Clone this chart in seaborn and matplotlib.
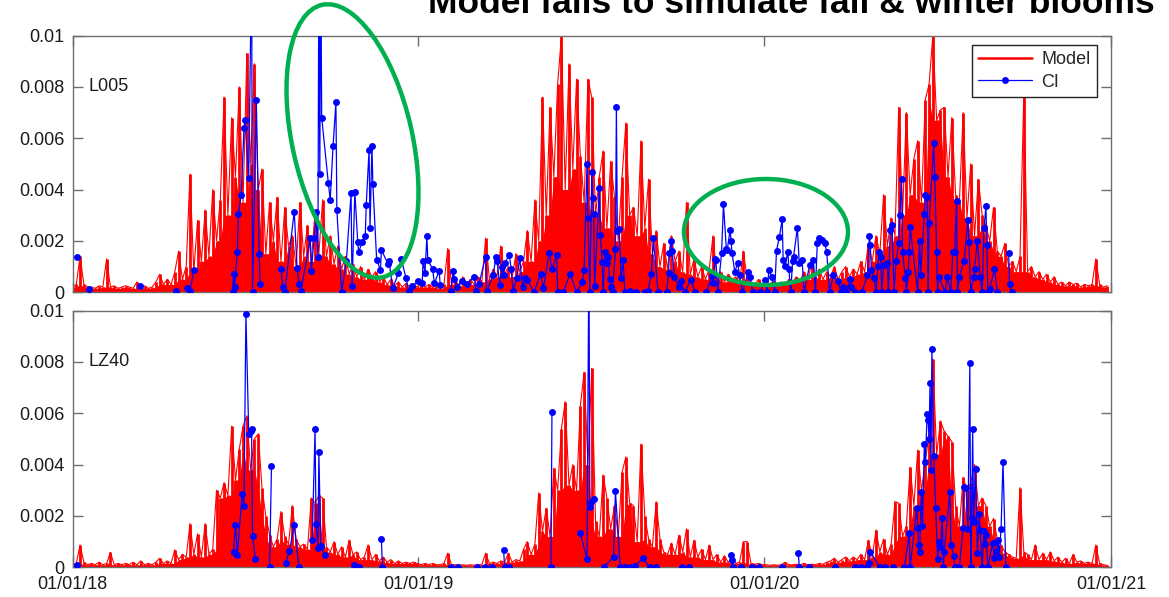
import numpy as np
import pandas as pd
import matplotlib
matplotlib.use("Agg")
import matplotlib.pyplot as plt
from matplotlib.patches import Ellipse
from matplotlib.transforms import IdentityTransform
from matplotlib.lines import Line2D
import seaborn as sns

# ---------------- data (values in units of 1e-4) ----------------
START = "2018-01-01"
END = "2021-01-01"
STEP_DAYS = 4          # model values are read every 4 days
UNIT = 1e-4
GAP_DAYS = 10          # CI observations further apart than this are not joined

model_l005 = [
    2, 3, 14, 3, 2, 2, 1.5, 2.5, 2, 13,
    2, 2.5, 1.5, 2, 2.5, 2, 1.5, 4, 2, 2.5,
    1.5, 2, 4, 7, 3, 5, 3, 8, 16, 5,
    10, 46, 8, 28, 12, 32, 14, 40, 20, 36,
    76, 30, 68, 45, 80, 35, 93, 50, 89, 40,
    48, 15, 35, 20, 37, 12, 33, 18, 22, 10,
    35, 14, 26, 12, 31, 15, 36, 14, 22, 11,
    18, 9, 14, 7, 11, 6, 10, 5, 9, 6,
    8, 4, 6, 3, 5, 2.5, 4, 2, 3.5, 2,
    3, 2, 3.5, 2, 3, 2, 2.5, 1.5, 3, 17,
    3, 5, 2.5, 6, 3, 5, 3, 6, 4, 21,
    5, 9, 6, 18, 7, 10, 6, 15, 8, 12,
    24, 12, 36, 20, 76, 30, 72, 45, 81, 100,
    40, 89, 48, 83, 53, 35, 83, 76, 30, 45,
    55, 25, 51, 37, 20, 45, 66, 30, 33, 22,
    59, 25, 44, 15, 24, 10, 19, 9, 22, 12,
    16, 8, 35, 7, 13, 6, 10, 5, 9, 22,
    6, 8, 4, 7, 5, 6, 4, 16, 5, 4,
    3, 5, 2.5, 4, 3, 4.5, 2.5, 4, 3, 5,
    4, 6, 4.5, 8, 5, 11, 6, 9, 5, 8,
    6, 10, 5, 8, 10, 6, 9, 7, 12, 8,
    19, 12, 22, 15, 38, 18, 29, 22, 72, 30,
    70, 38, 52, 59, 35, 75, 81, 100, 67, 71,
    72, 45, 68, 38, 35, 70, 29, 50, 22, 44,
    30, 26, 20, 33, 16, 14, 19, 10, 12, 8,
    14, 78, 8, 10, 6, 8, 5, 7, 4, 6,
    3, 4, 2.5, 4, 3, 3.5, 2, 3, 2.5, 3,
    13, 3, 2, 2.5,
]

model_lz40 = [
    1, 1.5, 8.7, 2, 1, 1.5, 1, 2, 1, 1.5,
    5.8, 1, 1.5, 1, 1.5, 1, 2, 1, 2.5, 1,
    1.5, 1, 2, 3.5, 1.5, 2.5, 1.5, 6.8, 3, 5,
    4, 17, 5, 13, 4, 17, 5, 7, 30, 27,
    33, 28, 55, 34, 46, 55, 59, 38, 50, 52,
    31, 20, 12.6, 8, 11, 21.7, 12, 9, 24, 11,
    8, 9, 7, 27, 25, 28, 27, 8, 6, 10,
    5, 8, 4, 10.6, 5, 6, 3, 4, 8.7, 3,
    5, 2.5, 4, 2, 3, 1.5, 2.5, 1.5, 2, 1.5,
    2, 1.5, 1, 1.5, 1, 1.5, 1, 1, 1.5, 5.5,
    1, 1, 0.8, 1, 0.8, 1, 0.8, 1, 1, 5.5,
    1.5, 2, 1.5, 2.5, 2, 5.5, 2, 3, 2.5, 7,
    10, 5, 9, 29, 14, 23, 12, 38.6, 30, 54,
    64.5, 32, 40, 30, 63, 76, 40, 77.5, 18, 12,
    36, 27, 15, 24, 12, 37, 43, 25, 24, 10,
    48, 20, 11, 8, 25.6, 11, 6, 5, 9.4, 5,
    12.6, 6, 15, 4, 10.6, 4, 7, 3, 8.7, 3,
    5, 2, 4.5, 2, 3.5, 1.5, 2, 10, 10, 1.5,
    1.2, 1.5, 1, 1, 0.8, 1, 0.8, 1, 2, 1,
    1, 1.2, 1, 1.5, 1, 1.2, 1, 1.5, 1.2, 2,
    2.5, 3.5, 2, 3, 4, 2.5, 4, 3, 5, 3,
    10.6, 4, 14.5, 6, 11, 5, 9, 25.6, 25, 12,
    16, 39, 24, 45.7, 30, 41, 52, 81, 44, 57,
    53, 51, 49, 24, 16, 35, 30, 33, 40, 24,
    27, 24, 16, 19, 11, 8.7, 6, 5, 4, 3.5,
    31, 6, 5, 3, 8.7, 3, 5.5, 3, 6, 2.5,
    4, 2, 3.5, 1.5, 5, 2, 2.5, 1.5, 2, 1.5,
    8.7, 1.5, 1, 0.8,
]

# (day since 01/01/18, value) pairs of CI observations
ci_l005 = [
    (5, 13.6), (17, 1.2), (71, 2.5), (109, 0.6), (121, 1.7), (124, 0.3), (128, 8.6), (169, 0), (170, 7.1), (171, 2.1),
    (174, 15.6), (175, 30.5), (178, 37.7), (181, 64), (182, 67), (186, 44.5), (189, 130), (190, 0), (194, 75), (197, 15),
    (198, 3.2), (220, 9), (222, 2), (224, 0), (234, 31.4), (237, 9.4), (239, 3.2), (241, 0.5), (251, 21), (252, 8.4),
    (255, 21), (257, 31.4), (259, 13.6), (260, 130), (261, 46), (262, 130), (263, 68), (270, 42.5), (272, 36), (275, 57),
    (278, 74), (279, 32), (284, 0), (289, 12), (294, 38.6), (295, 2.5), (298, 39), (301, 19.7), (302, 15.8), (306, 19.6),
    (309, 22), (310, 34), (313, 55.5), (314, 25), (316, 57), (317, 42), (321, 12.6), (325, 8.7), (326, 16.5), (333, 11),
    (334, 12.3), (338, 1.6), (344, 7.4), (347, 12.9), (352, 5.5), (355, 0.3), (358, 2.5), (365, 4.2), (369, 3.5), (370, 12.3),
    (372, 7.4), (374, 21.7), (375, 12.6), (380, 9), (382, 3.5), (387, 8.4), (388, 2.9), (399, 0.3), (402, 8.4), (403, 5),
    (406, 2.2), (411, 4.3), (416, 3.2), (424, 6.1), (426, 0.3), (429, 3.2), (436, 13.9), (437, 0.3), (444, 6.8), (447, 13.9),
    (448, 12.2), (451, 2.9), (453, 9.7), (455, 6.8), (456, 11.3), (461, 14.5), (463, 9), (465, 0.6), (469, 5.5), (472, 13.2),
    (475, 2.2), (478, 5.5), (480, 4.8), (487, 0), (494, 7.1), (497, 1.6), (503, 15.2), (506, 9), (511, 14.5), (512, 0),
    (518, 0), (525, 7.1), (532, 0), (538, 3.9), (540, 8.7), (543, 50), (544, 28.8), (546, 0), (548, 47), (549, 36.6),
    (550, 30.5), (551, 2.5), (556, 40.5), (557, 22.3), (559, 11.6), (560, 0), (562, 15.8), (564, 11.3), (565, 13.6), (567, 5),
    (568, 2.2), (570, 0), (573, 17), (574, 72), (575, 24), (577, 24.5), (579, 5.5), (581, 12.6), (583, 0), (588, 0.3),
    (595, 0), (604, 0), (607, 0.3), (611, 7), (613, 21), (618, 0), (627, 0), (629, 7.4), (630, 15.2), (632, 20),
    (633, 16.2), (635, 6.1), (640, 2.2), (642, 4.2), (646, 0), (653, 4.8), (657, 0), (669, 0), (675, 6.4), (676, 3.5),
    (678, 12.9), (679, 12.6), (681, 0), (685, 15.2), (687, 34.3), (690, 17), (691, 16.5), (694, 24.3), (695, 20), (696, 15.2),
    (699, 8), (702, 11.3), (704, 6.8), (707, 0), (713, 7.7), (715, 5.8), (718, 0), (726, 0), (731, 4.8), (733, 0),
    (735, 8.7), (738, 5.8), (741, 0), (743, 16.2), (746, 21.4), (749, 28.4), (750, 12.6), (752, 10.3), (755, 15.8), (756, 9),
    (758, 0), (760, 12.3), (761, 13.9), (765, 25), (767, 11.3), (770, 12.6), (772, 0), (778, 10.6), (782, 12.6), (784, 0),
    (786, 19), (788, 21), (791, 20.4), (794, 19), (796, 15.5), (799, 0), (803, 6.8), (808, 4.2), (811, 0), (813, 2.2),
    (816, 0), (821, 5), (822, 2.2), (826, 0), (833, 0), (839, 6.8), (841, 22), (842, 18.4), (843, 8.7), (846, 5.5),
    (848, 0), (850, 10.3), (851, 15.5), (853, 13.9), (854, 0), (856, 10.6), (860, 11.3), (861, 0), (863, 24.3), (865, 26.2),
    (867, 0), (869, 12), (872, 19), (873, 30), (875, 44), (876, 15.8), (879, 5.5), (880, 0), (882, 7.7), (883, 15.8),
    (884, 25.3), (892, 0), (894, 20), (895, 6.8), (899, 30.5), (900, 37.7), (902, 37), (903, 0), (904, 27), (909, 58),
    (910, 45), (912, 15.5), (913, 0), (914, 6.1), (921, 0), (923, 6.1), (927, 0), (929, 15.5), (931, 15.5), (933, 35.7),
    (934, 0), (936, 6.1), (941, 12.3), (945, 28), (946, 19.5), (948, 0), (951, 5.8), (952, 9), (955, 20), (958, 6.1),
    (960, 0), (962, 25), (964, 33.6), (965, 18.4), (966, 0), (968, 1.2), (973, 9), (976, 0), (988, 15.2), (989, 3.2),
    (991, 0),
]

ci_lz40 = [
    (5, 0.9), (170, 6.1), (172, 16.5), (174, 4.8), (179, 28.6), (181, 24), (183, 98.7), (186, 52), (188, 53), (189, 53.8),
    (190, 12), (193, 3.2), (208, 0), (210, 39.5), (225, 1.8), (229, 6.5), (234, 16.5), (239, 0), (253, 10.6), (256, 54),
    (257, 17), (259, 7.7), (260, 45), (262, 8.4), (266, 4.8), (297, 0.9), (302, 0.3), (326, 11), (327, 0), (399, 0),
    (407, 0), (427, 0), (435, 0), (443, 0), (455, 6.8), (456, 0), (461, 0), (505, 0), (506, 60.4), (536, 13.2),
    (543, 3.2), (545, 125), (546, 23.6), (547, 25.6), (550, 26.6), (561, 0), (571, 4.2), (573, 29.7), (578, 0), (583, 0),
    (588, 0), (594, 0.6), (602, 3.5), (609, 0), (616, 0), (643, 0), (651, 0), (695, 4.8), (696, 2.9), (697, 0),
    (705, 0), (717, 0), (724, 0), (749, 0), (766, 5.7), (767, 0), (777, 0), (805, 0), (826, 0), (832, 0),
    (839, 0), (841, 1.8), (842, 6.1), (852, 0), (858, 0), (866, 0), (878, 0), (883, 13.2), (884, 0), (891, 23),
    (892, 15.5), (893, 8.7), (894, 5.8), (896, 29.2), (897, 16.2), (899, 48), (900, 41), (902, 59.6), (903, 57.4), (904, 50),
    (905, 71.7), (906, 38), (907, 85), (909, 43.5), (911, 23), (913, 3.2), (915, 9.7), (916, 7.8), (918, 19.4), (919, 0),
    (920, 6.1), (926, 29.5), (927, 8.7), (930, 4.5), (931, 0), (936, 0), (940, 15.5), (941, 31.4), (943, 30.8), (945, 15),
    (947, 79.5), (948, 0), (949, 19.4), (950, 54), (951, 17.8), (953, 38.2), (955, 5.5), (957, 20.6), (958, 14.5), (960, 0),
    (962, 14.2), (963, 9), (964, 12.6), (966, 0), (971, 9.4), (973, 3.5), (975, 6.4), (977, 10.6), (978, 4.2), (980, 15),
    (982, 41.2), (985, 0),
]

panel_names = ["L005", "LZ40"]
tick_dates = ["2018-01-01", "2019-01-01", "2020-01-01", "2021-01-01"]
tick_labels = ["01/01/18", "01/01/19", "01/01/20", "01/01/21"]
ytick_vals = [0, 0.002, 0.004, 0.006, 0.008, 0.01]
ytick_labels = ["0", "0.002", "0.004", "0.006", "0.008", "0.01"]
legend_labels = ["Model", "CI"]
title = "Model fails to simulate fall & winter blooms"

# ---------------- styling ----------------
sns.set_theme(style="white")
plt.rcParams["font.family"] = ["Liberation Sans", "DejaVu Sans"]
RED = "#ff0000"
BLUE = "#0000ff"
GREEN = "#00b050"
SPINE = "#6e6e6e"

W, H = 1169, 597
fig = plt.figure(figsize=(W / 100, H / 100), dpi=100)
fig.patch.set_facecolor("white")

start = pd.Timestamp(START)
end = pd.Timestamp(END)


def model_frame(vals):
    days = np.arange(len(vals)) * STEP_DAYS
    v = pd.Series(np.asarray(vals, float) * UNIT)
    return pd.DataFrame({"date": start + pd.to_timedelta(days, unit="D"),
                         "value": v,
                         # solid body of the model trace: lower envelope of neighbours
                         "body": v.rolling(3, center=True, min_periods=1).min()})


def ci_frame(pairs):
    pairs = sorted(pairs)
    d, v = zip(*pairs)
    d = np.asarray(d, float)
    seg = np.concatenate([[0], np.cumsum(np.diff(d) > GAP_DAYS)])
    return pd.DataFrame({"date": start + pd.to_timedelta(d, unit="D"),
                         "value": np.asarray(v, float) * UNIT,
                         "seg": seg})


ax_left = 72.5 / W
ax_w = (1111 - 72.5) / W
ax_h = 256.7 / H
positions = [[ax_left, 1 - 292.2 / H, ax_w, ax_h],
             [ax_left, 1 - 567.3 / H, ax_w, ax_h]]

axes = []
for k, (name, mvals, cvals) in enumerate(zip(panel_names, [model_l005, model_lz40], [ci_l005, ci_lz40])):
    ax = fig.add_axes(positions[k])
    mdf = model_frame(mvals)
    cdf = ci_frame(cvals)
    # model: solid lower body, one spike per sample and a thin trace over the tops
    ax.fill_between(mdf["date"], 0, mdf["body"], color=RED, lw=0, zorder=1.9)
    ax.vlines(mdf["date"], 0, mdf["value"], color=RED, lw=2.0, zorder=1.95)
    sns.lineplot(data=mdf, x="date", y="value", ax=ax, color=RED, lw=0.8,
                 estimator=None, errorbar=None, zorder=2)
    sns.lineplot(data=cdf, x="date", y="value", units="seg", ax=ax, color=BLUE, lw=0.9,
                 marker="o", markersize=5, markeredgewidth=0, markeredgecolor=BLUE,
                 estimator=None, errorbar=None, zorder=3, legend=False)
    ax.set_xlim(start, end)
    ax.set_ylim(0, 0.01)
    ax.set_xticks(pd.to_datetime(tick_dates))
    ax.set_yticks(ytick_vals)
    ax.set_yticklabels(ytick_labels)
    ax.set_xlabel("")
    ax.set_ylabel("")
    for s in ax.spines.values():
        s.set_visible(True)
        s.set_color(SPINE)
        s.set_linewidth(1.0)
    ax.tick_params(axis="both", direction="in", length=7, width=1, color=SPINE,
                   top=True, right=True, bottom=True, left=True,
                   labelsize=13, labelcolor="#1a1a1a")
    ax.tick_params(axis="y", pad=6)
    ax.tick_params(axis="x", pad=6)
    if k == 0:
        ax.set_xticklabels([])
    else:
        ax.set_xticklabels(tick_labels)
    ax.text(0.015, 0.8, name, transform=ax.transAxes, ha="left", va="center",
            fontsize=13, color="#1a1a1a")
    ax.set_facecolor("white")
    axes.append(ax)

# legend in the top panel
handles = [Line2D([], [], color=RED, lw=1.8),
           Line2D([], [], color=BLUE, lw=0.9, marker="o", markersize=5, markeredgewidth=0)]
leg = axes[0].legend(handles, legend_labels, loc="upper right", bbox_to_anchor=(0.9865, 0.963),
                     frameon=True, fancybox=False, framealpha=1, edgecolor="#222222",
                     fontsize=13, handlelength=3.0, handletextpad=0.5, borderpad=0.35,
                     labelspacing=0.3, borderaxespad=0)
leg.get_frame().set_linewidth(1.0)

# annotations: title (partly cut off at the top edge) and green ellipses
fig.text(428 / W, 1 - 13 / H, title, ha="left", va="baseline", fontsize=25.5,
         fontweight="bold", color="black")

e1 = Ellipse((352.5, H - 141), width=120, height=279, angle=12.6,
             transform=IdentityTransform(), fill=False, edgecolor=GREEN, lw=3.2, zorder=5)
e2 = Ellipse((766, H - 232), width=164, height=106, angle=0,
             transform=IdentityTransform(), fill=False, edgecolor=GREEN, lw=3.2, zorder=5)
fig.add_artist(e1)
fig.add_artist(e2)

fig.savefig("out.png", dpi=100, facecolor="white")
